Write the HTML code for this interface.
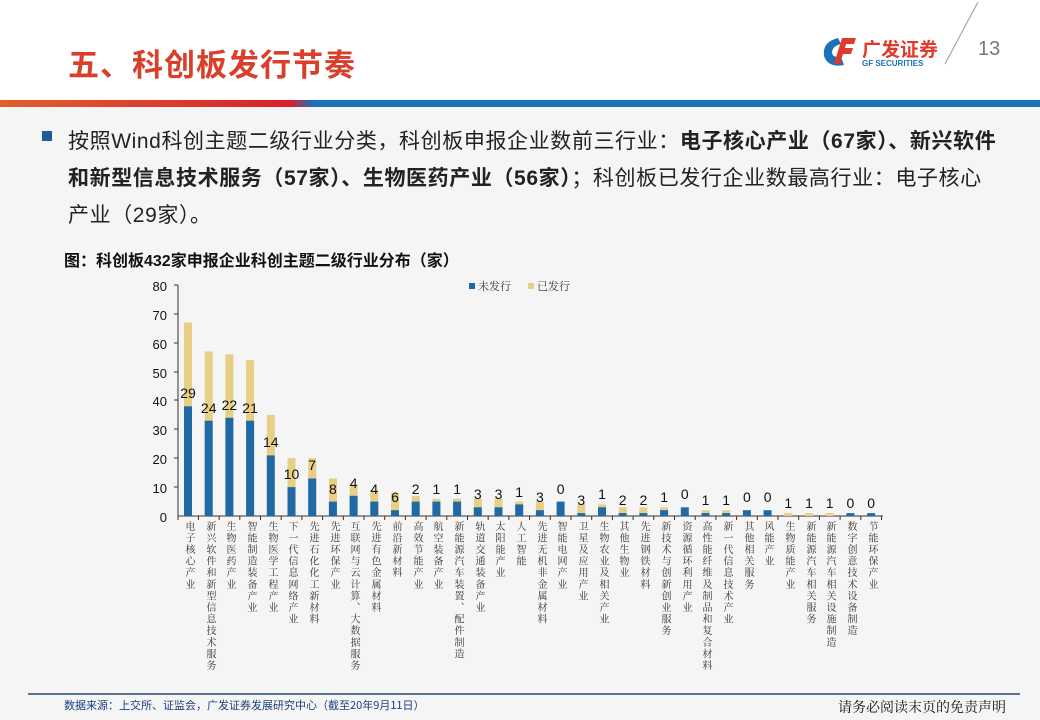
<!DOCTYPE html>
<html><head><meta charset="utf-8">
<style>
body{margin:0;width:1040px;height:720px;overflow:hidden;background:#f5f5f5;font-family:"Liberation Sans","Noto Sans CJK SC",sans-serif;position:relative}
.hdr{position:absolute;left:0;top:0;width:1040px;height:100px;background:#fff}
.bar{position:absolute;left:0;top:100px;width:1040px;height:7px;background:linear-gradient(90deg,#e0602e 0%,#d8202c 28%,#1a72b8 30%,#1a72b8 100%)}
.title{position:absolute;left:68px;top:40px;font-size:31px;font-weight:bold;color:#d9402b;letter-spacing:1px}
.p{position:absolute;left:68px;font-size:21px;letter-spacing:0.6px;color:#222;white-space:nowrap}
.cap{position:absolute;left:64px;top:247px;font-size:16px;font-weight:bold;color:#111}
.xl{position:absolute;top:521px;writing-mode:vertical-rl;font-size:10px;line-height:10px;letter-spacing:1.6px;color:#333;font-family:"Liberation Serif","Noto Serif CJK SC",serif}
</style></head><body>
<div class="hdr"></div>
<div class="title">五、科创板发行节奏</div>
<svg style="position:absolute;left:0;top:0" width="1040" height="100">
<path d="M838 38 q-16 4 -14 18 q4 12 20 9 l-3-8 q-8 1 -9-4 q0-7 9-9z" fill="#1a72b8"/>
<path d="M842 38 h14 l-2 6 h-8 l-1 4 h8 l-2 6 h-8 l-3 10 h-6z" fill="#e03a2a"/>
<text x="862" y="56" font-size="19" font-weight="bold" fill="#e03a2a" font-family="Noto Sans CJK SC,sans-serif">广发证券</text>
<text x="862" y="66" font-size="8" font-weight="bold" fill="#1a72b8">GF SECURITIES</text>
<line x1="978" y1="2" x2="945" y2="64" stroke="#999" stroke-width="1"/>
<text x="978" y="55" font-size="20" fill="#777">13</text>
</svg>
<div class="bar"></div>
<div style="position:absolute;left:42px;top:131px;width:10px;height:10px;background:#1f5e99"></div>
<div class="p" style="top:125px">按照Wind科创主题二级行业分类，科创板申报企业数前三行业：<b>电子核心产业（67家）、新兴软件</b></div>
<div class="p" style="top:162px"><b>和新型信息技术服务（57家）、生物医药产业（56家）</b>；科创板已发行企业数最高行业：电子核心</div>
<div class="p" style="top:199px">产业（29家）。</div>
<div class="cap">图：科创板432家申报企业科创主题二级行业分布（家）</div>
<svg style="position:absolute;left:0;top:0" width="1040" height="720" font-family="Liberation Sans,sans-serif">
<g font-size="13" fill="#111" text-anchor="end">
<text x="167" y="291">80</text><text x="167" y="320">70</text><text x="167" y="349">60</text><text x="167" y="378">50</text><text x="167" y="406">40</text><text x="167" y="435">30</text><text x="167" y="464">20</text><text x="167" y="493">10</text><text x="167" y="522">0</text>
</g>
<g stroke="#333" stroke-width="1">
<line x1="178" y1="285" x2="178" y2="516"/><line x1="178" y1="516" x2="883" y2="516"/>
<line x1="174" y1="285" x2="178" y2="285"/><line x1="174" y1="314" x2="178" y2="314"/><line x1="174" y1="343" x2="178" y2="343"/><line x1="174" y1="372" x2="178" y2="372"/><line x1="174" y1="400" x2="178" y2="400"/><line x1="174" y1="429" x2="178" y2="429"/><line x1="174" y1="458" x2="178" y2="458"/><line x1="174" y1="487" x2="178" y2="487"/>
</g>
<g fill="#e8cf86">
<rect x="184" y="322.5" width="8" height="193.5"/><rect x="204.7" y="351.4" width="8" height="164.6"/><rect x="225.4" y="354.3" width="8" height="161.7"/><rect x="246.1" y="360.1" width="8" height="155.9"/><rect x="266.8" y="414.9" width="8" height="101.1"/><rect x="287.5" y="458.2" width="8" height="57.8"/><rect x="308.2" y="458.2" width="8" height="57.8"/><rect x="328.9" y="478.5" width="8" height="37.5"/><rect x="349.6" y="484.2" width="8" height="31.8"/><rect x="370.3" y="490" width="8" height="26"/><rect x="391" y="492.9" width="8" height="23.1"/><rect x="411.7" y="495.8" width="8" height="20.2"/><rect x="432.4" y="498.7" width="8" height="17.3"/><rect x="453.1" y="498.7" width="8" height="17.3"/><rect x="473.8" y="498.7" width="8" height="17.3"/><rect x="494.5" y="498.7" width="8" height="17.3"/><rect x="515.2" y="501.6" width="8" height="14.4"/><rect x="535.9" y="501.6" width="8" height="14.4"/><rect x="577.3" y="504.4" width="8" height="11.6"/><rect x="598" y="504.4" width="8" height="11.6"/><rect x="618.7" y="507.3" width="8" height="8.7"/><rect x="639.4" y="507.3" width="8" height="8.7"/><rect x="660.1" y="507.3" width="8" height="8.7"/><rect x="701.5" y="510.2" width="8" height="5.8"/><rect x="722.2" y="510.2" width="8" height="5.8"/><rect x="784.3" y="513.1" width="8" height="2.9"/><rect x="805" y="513.1" width="8" height="2.9"/><rect x="825.7" y="513.1" width="8" height="2.9"/>
</g>
<g fill="#1f6aa5">
<rect x="184" y="406.3" width="8" height="109.7"/><rect x="204.7" y="420.7" width="8" height="95.3"/><rect x="225.4" y="417.8" width="8" height="98.2"/><rect x="246.1" y="420.7" width="8" height="95.3"/><rect x="266.8" y="455.4" width="8" height="60.6"/><rect x="287.5" y="487.1" width="8" height="28.9"/><rect x="308.2" y="478.5" width="8" height="37.5"/><rect x="328.9" y="501.6" width="8" height="14.4"/><rect x="349.6" y="495.8" width="8" height="20.2"/><rect x="370.3" y="501.6" width="8" height="14.4"/><rect x="391" y="510.2" width="8" height="5.8"/><rect x="411.7" y="501.6" width="8" height="14.4"/><rect x="432.4" y="501.6" width="8" height="14.4"/><rect x="453.1" y="501.6" width="8" height="14.4"/><rect x="473.8" y="507.3" width="8" height="8.7"/><rect x="494.5" y="507.3" width="8" height="8.7"/><rect x="515.2" y="504.4" width="8" height="11.6"/><rect x="535.9" y="510.2" width="8" height="5.8"/><rect x="556.6" y="501.6" width="8" height="14.4"/><rect x="577.3" y="513.1" width="8" height="2.9"/><rect x="598" y="507.3" width="8" height="8.7"/><rect x="618.7" y="513.1" width="8" height="2.9"/><rect x="639.4" y="513.1" width="8" height="2.9"/><rect x="660.1" y="510.2" width="8" height="5.8"/><rect x="680.8" y="507.3" width="8" height="8.7"/><rect x="701.5" y="513.1" width="8" height="2.9"/><rect x="722.2" y="513.1" width="8" height="2.9"/><rect x="742.9" y="510.2" width="8" height="5.8"/><rect x="763.6" y="510.2" width="8" height="5.8"/><rect x="846.4" y="513.1" width="8" height="2.9"/><rect x="867.1" y="513.1" width="8" height="2.9"/>
</g>
<g font-size="14" fill="#111" text-anchor="middle">
<text x="188" y="398">29</text><text x="208.7" y="413">24</text><text x="229.4" y="410">22</text><text x="250.1" y="413">21</text><text x="270.8" y="447">14</text><text x="291.5" y="479">10</text><text x="312.2" y="470">7</text><text x="332.9" y="494">8</text><text x="353.6" y="488">4</text><text x="374.3" y="494">4</text><text x="395" y="502">6</text><text x="415.7" y="494">2</text><text x="436.4" y="494">1</text><text x="457.1" y="494">1</text><text x="477.8" y="499">3</text><text x="498.5" y="499">3</text><text x="519.2" y="497">1</text><text x="539.9" y="502">3</text><text x="560.6" y="494">0</text><text x="581.3" y="505">3</text><text x="602" y="499">1</text><text x="622.7" y="505">2</text><text x="643.4" y="505">2</text><text x="664.1" y="502">1</text><text x="684.8" y="499">0</text><text x="705.5" y="505">1</text><text x="726.2" y="505">1</text><text x="746.9" y="502">0</text><text x="767.6" y="502">0</text><text x="788.3" y="508">1</text><text x="809" y="508">1</text><text x="829.7" y="508">1</text><text x="850.4" y="508">0</text><text x="871.1" y="508">0</text>
</g>
<g stroke="#333">
<path d="M198.4 516v4M219.1 516v4M239.8 516v4M260.5 516v4M281.2 516v4M301.9 516v4M322.6 516v4M343.3 516v4M364 516v4M384.7 516v4M405.4 516v4M426.1 516v4M446.8 516v4M467.5 516v4M488.2 516v4M508.9 516v4M529.6 516v4M550.3 516v4M571 516v4M591.7 516v4M612.4 516v4M633.1 516v4M653.8 516v4M674.5 516v4M695.2 516v4M715.9 516v4M736.6 516v4M757.3 516v4M778 516v4M798.7 516v4M819.4 516v4M840.1 516v4M860.8 516v4M881.5 516v4M178 516v4"/>
</g>
<rect x="469" y="283" width="6" height="6" fill="#1f6aa5"/><text x="478" y="290" font-size="11" fill="#333" font-family="Noto Serif CJK SC,serif">未发行</text>
<rect x="528" y="283" width="6" height="6" fill="#e8cf86"/><text x="537" y="290" font-size="11" fill="#333" font-family="Noto Serif CJK SC,serif">已发行</text>
<line x1="28" y1="694" x2="1020" y2="694" stroke="#5a7490" stroke-width="2"/>
<text x="64" y="709" font-size="11" fill="#1a3f7a" font-family="Noto Sans CJK SC,sans-serif">数据来源：上交所、证监会，广发证券发展研究中心（截至20年9月11日）</text>
<text x="838" y="712" font-size="14" fill="#111" font-family="Noto Serif CJK SC,serif">请务必阅读末页的免责声明</text>
</svg>
<div class="xl" style="left:183px">电子核心产业</div>
<div class="xl" style="left:204px">新兴软件和新型信息技术服务</div>
<div class="xl" style="left:224px">生物医药产业</div>
<div class="xl" style="left:245px">智能制造装备产业</div>
<div class="xl" style="left:266px">生物医学工程产业</div>
<div class="xl" style="left:286px">下一代信息网络产业</div>
<div class="xl" style="left:307px">先进石化化工新材料</div>
<div class="xl" style="left:328px">先进环保产业</div>
<div class="xl" style="left:348px">互联网与云计算、大数据服务</div>
<div class="xl" style="left:369px">先进有色金属材料</div>
<div class="xl" style="left:390px">前沿新材料</div>
<div class="xl" style="left:411px">高效节能产业</div>
<div class="xl" style="left:431px">航空装备产业</div>
<div class="xl" style="left:452px">新能源汽车装置、配件制造</div>
<div class="xl" style="left:473px">轨道交通装备产业</div>
<div class="xl" style="left:493px">太阳能产业</div>
<div class="xl" style="left:514px">人工智能</div>
<div class="xl" style="left:535px">先进无机非金属材料</div>
<div class="xl" style="left:555px">智能电网产业</div>
<div class="xl" style="left:576px">卫星及应用产业</div>
<div class="xl" style="left:597px">生物农业及相关产业</div>
<div class="xl" style="left:617px">其他生物业</div>
<div class="xl" style="left:638px">先进钢铁材料</div>
<div class="xl" style="left:659px">新技术与创新创业服务</div>
<div class="xl" style="left:680px">资源循环利用产业</div>
<div class="xl" style="left:700px">高性能纤维及制品和复合材料</div>
<div class="xl" style="left:721px">新一代信息技术产业</div>
<div class="xl" style="left:742px">其他相关服务</div>
<div class="xl" style="left:762px">风能产业</div>
<div class="xl" style="left:783px">生物质能产业</div>
<div class="xl" style="left:804px">新能源汽车相关服务</div>
<div class="xl" style="left:824px">新能源汽车相关设施制造</div>
<div class="xl" style="left:845px">数字创意技术设备制造</div>
<div class="xl" style="left:866px">节能环保产业</div>
</body></html>
